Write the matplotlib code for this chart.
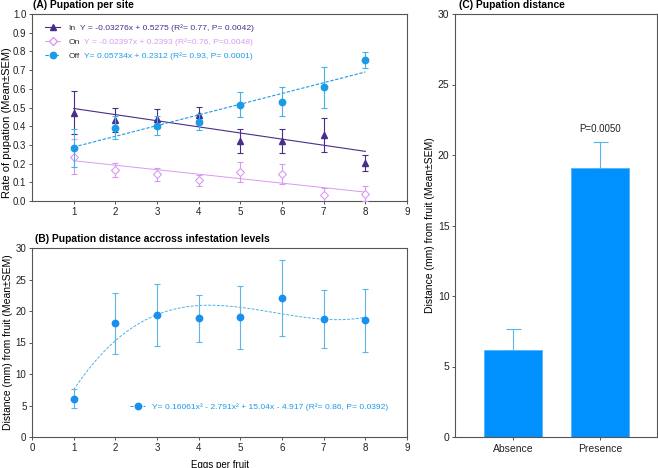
import matplotlib
matplotlib.use("Agg")
import matplotlib.pyplot as plt
import numpy as np
from matplotlib.lines import Line2D

plt.rcParams['font.family'] = ['Liberation Sans', 'DejaVu Sans']
plt.rcParams['axes.edgecolor'] = '#555555'
plt.rcParams['xtick.color'] = '#555555'
plt.rcParams['ytick.color'] = '#555555'
plt.rcParams['xtick.labelcolor'] = '#222222'
plt.rcParams['ytick.labelcolor'] = '#222222'

# ---------------- data ----------------
eggs = [1, 2, 3, 4, 5, 6, 7, 8]

in_mean = [0.471, 0.432, 0.441, 0.459, 0.321, 0.321, 0.354, 0.205]
in_sem = [0.115, 0.063, 0.050, 0.045, 0.065, 0.065, 0.090, 0.042]
on_mean = [0.236, 0.168, 0.143, 0.111, 0.155, 0.143, 0.032, 0.039]
on_sem = [0.093, 0.037, 0.036, 0.030, 0.054, 0.053, 0.035, 0.040]
off_mean = [0.284, 0.393, 0.402, 0.421, 0.516, 0.530, 0.607, 0.754]
off_sem = [0.100, 0.060, 0.050, 0.043, 0.068, 0.077, 0.107, 0.045]

in_coef = [-0.03276, 0.5275]
on_coef = [-0.02397, 0.2393]
off_coef = [0.05734, 0.2312]

dist_mean = [6.1, 18.05, 19.4, 18.85, 19.0, 22.1, 18.7, 18.5]
dist_sem = [1.55, 4.8, 4.9, 3.7, 5.0, 6.0, 4.6, 5.0]
cubic_coef = [0.16061, -2.791, 15.04, -4.917]

groups = ['Absence', 'Presence']
grp_mean = [6.15, 19.09]
grp_sem = [1.54, 1.80]

# ---------------- colours ----------------
c_in = '#4a2c8a'
c_on = '#d79af0'
c_off = '#1a9be8'
c_b = '#1890f0'
c_b_err = '#5db5e8'
c_bar = '#0091ff'

W, H = 658, 468
fig = plt.figure(figsize=(W / 100, H / 100), dpi=100)

def fr(x0, y0, x1, y1):
    return [x0 / W, 1 - y1 / H, (x1 - x0) / W, (y1 - y0) / H]

axA = fig.add_axes(fr(32, 14, 407, 201))
axB = fig.add_axes(fr(32, 248, 407, 437))
axC = fig.add_axes(fr(455, 14, 657, 437))

for ax in (axA, axB):
    for s in ax.spines.values():
        s.set_linewidth(0.8)
    ax.tick_params(labelsize=7, length=2, width=0.7, pad=2)
for s in axC.spines.values():
    s.set_linewidth(0.8)
axC.tick_params(labelsize=7.5, length=2, width=0.7, pad=2)

# ---------------- panel A ----------------
xfit = np.linspace(1, 8, 50)
axA.plot(xfit, np.polyval(in_coef, xfit), color=c_in, lw=0.8)
axA.plot(xfit, np.polyval(on_coef, xfit), color=c_on, lw=0.7)
axA.plot(xfit, np.polyval(off_coef, xfit), color=c_off, lw=0.8, ls=(0, (3, 1.5)))

ek = dict(elinewidth=0.8, capsize=2.2, capthick=0.8)
axA.errorbar(eggs, in_mean, yerr=in_sem, fmt='^', color=c_in, ms=4, zorder=4, **ek)
axA.errorbar(eggs, on_mean, yerr=on_sem, fmt='D', color=c_on, ms=3.8,
             mfc='white', mec=c_on, mew=0.8, zorder=4, **ek)
axA.errorbar(eggs, off_mean, yerr=off_sem, fmt='o', color=c_off, ms=4.6,
             zorder=5, ecolor='#45b0ea', **ek)

axA.set_xlim(0, 9)
axA.set_ylim(0, 1.0)
axA.set_xticks(range(1, 10))
axA.set_yticks(np.arange(0, 1.01, 0.1))
axA.set_yticklabels([f'{v:.1f}' for v in np.arange(0, 1.01, 0.1)])
axA.set_ylabel('Rate of pupation (Mean±SEM)', fontsize=8)
axA.yaxis.set_label_coords(-0.052, 0.42)
fig.text(33 / W, 1 - 5 / H, '(A) Pupation per site', fontsize=7.4, fontweight='bold',
         va='center', ha='left')

hA = [Line2D([], [], color=c_in, marker='^', ms=4, lw=0.8),
      Line2D([], [], color=c_on, marker='D', ms=3.8, mfc='white', lw=0.7),
      Line2D([], [], color=c_off, marker='o', ms=4.6, lw=0.8, ls=(0, (3, 1.5)))]
legA = axA.legend(hA, ['In', 'On', 'Off'], loc='upper left',
                  bbox_to_anchor=((45 - 32) / 375, (201 - 24) / 187),
                  borderaxespad=0, borderpad=0,
                  frameon=False, fontsize=6.1, handlelength=1.8, handletextpad=1.0,
                  labelspacing=0.7, labelcolor='#333333')

eqA = ['Y = -0.03276x + 0.5275 (R²= 0.77, P= 0.0042)',
       'Y = -0.02397x + 0.2393 (R²=0.76, P=0.0048)',
       'Y= 0.05734x + 0.2312 (R²= 0.93, P= 0.0001)']
colsA = [c_in, c_on, c_off]
fig.canvas.draw()
rend = fig.canvas.get_renderer()
for t, eq, c in zip(legA.get_texts(), eqA, colsA):
    bb = t.get_window_extent(rend)
    fig.text((bb.x1 + 4) / W, (bb.y0 + bb.y1) / 2 / H, eq, color=c, fontsize=6.1,
             va='center', ha='left')

# ---------------- panel B ----------------
xc = np.linspace(1, 8, 200)
axB.plot(xc, np.polyval(cubic_coef, xc), color='#4fb0e8', lw=0.7, ls=(0, (3, 1.5)))
axB.errorbar(eggs, dist_mean, yerr=dist_sem, fmt='o', color=c_b, ms=4.6,
             ecolor=c_b_err, zorder=4, **ek)
axB.set_xlim(0, 9)
axB.set_ylim(0, 30)
axB.set_xticks(range(0, 10))
axB.set_yticks(range(0, 31, 5))
axB.set_ylabel('Distance (mm) from fruit (Mean±SEM)', fontsize=7.5, labelpad=2)
axB.set_xlabel('Eggs per fruit', fontsize=7, labelpad=5)
fig.text(35 / W, 1 - 239 / H, '(B) Pupation distance accross infestation levels',
         fontsize=7.4, fontweight='bold', va='center', ha='left')
hB = [Line2D([], [], color=c_b, marker='o', ms=4.6, lw=0.7, ls=(0, (3, 1.5)))]
axB.legend(hB, ['Y= 0.16061x³ - 2.791x² + 15.04x - 4.917 (R²= 0.86, P= 0.0392)'],
           loc='center left', bbox_to_anchor=((130 - 32) / 375, (437 - 407) / 189),
           borderaxespad=0, borderpad=0, frameon=False, fontsize=6.1,
           labelcolor=c_off, handlelength=1.8, handletextpad=0.8)

# ---------------- panel C ----------------
xpos = np.arange(len(groups))
axC.bar(xpos, grp_mean, width=0.67, color=c_bar, edgecolor='#55b5f5', linewidth=0.6, zorder=2)
axC.errorbar(xpos, grp_mean, yerr=[np.zeros(len(grp_sem)), grp_sem], fmt='none',
             ecolor='#5ab4ee', elinewidth=0.8, capsize=5.4, capthick=0.8, zorder=3)
axC.set_xlim(-0.667, 1.655)
axC.set_ylim(0, 30)
axC.set_yticks(range(0, 31, 5))
axC.set_xticks(xpos)
axC.set_xticklabels(groups)
axC.tick_params(axis='x', pad=3)
axC.set_ylabel('Distance (mm) from fruit (Mean±SEM)', fontsize=7.5, labelpad=2)
axC.text(1, grp_mean[1] + grp_sem[1] + 0.6, 'P=0.0050', ha='center', va='bottom', fontsize=7,
         color='#222222')
fig.text(459 / W, 1 - 5 / H, '(C) Pupation distance', fontsize=7.4, fontweight='bold',
         va='center', ha='left')

fig.savefig('out.png', dpi=100)
